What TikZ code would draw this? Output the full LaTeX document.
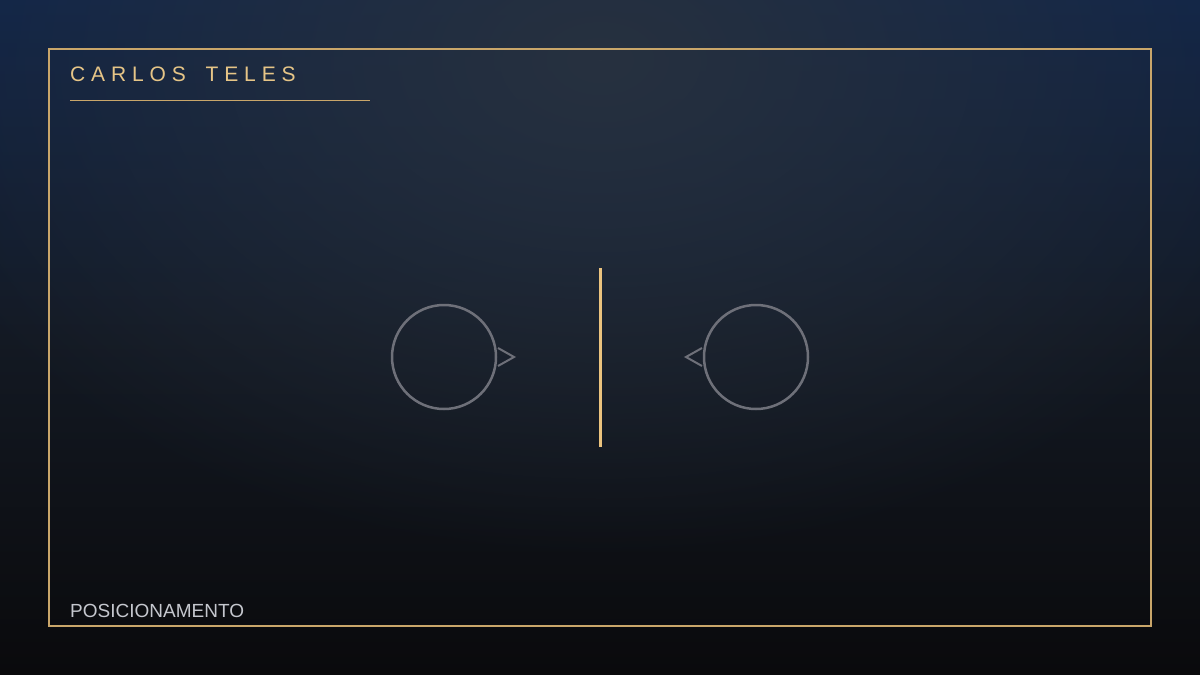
\documentclass[tikz,border=0pt]{standalone}
\usepackage{fontspec}
\setmainfont{Liberation Sans}
\newfontfamily\titlefont[LetterSpace=28]{Liberation Sans}
\usetikzlibrary{fadings}
\definecolor{gold}{HTML}{C9A66A}
\definecolor{goldtext}{HTML}{E6C587}
\definecolor{goldline}{HTML}{EBC37E}
\definecolor{ring}{HTML}{6E7079}
\definecolor{labelgray}{HTML}{C5C7CE}
\definecolor{bgtop}{HTML}{10254A}
\definecolor{bgmid}{HTML}{131923}
\definecolor{bgbot}{HTML}{0A0A0C}
\definecolor{glow}{HTML}{27313F}
\tikzfading[name=glowfade, inner color=transparent!0, outer color=transparent!100]
\tikzset{
  frame/.style={draw=gold, line width=2pt},
  ringnode/.style={circle, draw=ring, line width=2.5pt, minimum size=104pt, inner sep=0pt},
  pointer/.style={draw=ring, line width=2pt, line join=miter},
  divider/.style={draw=goldline, line width=3pt},
}
\begin{document}
\begin{tikzpicture}[x=1pt, y=-1pt]
\useasboundingbox (0,0) rectangle (1200,675);
% background
\shade[top color=bgtop, bottom color=bgbot, middle color=bgmid] (0,0) rectangle (1200,675);
\fill[glow, path fading=glowfade] (600,60) ellipse [x radius=740, y radius=500];
% frame
\draw[frame] (49,49) rectangle (1151,626);
% title
\node[anchor=base west, inner sep=0pt, text=goldtext, font=\titlefont\fontsize{21}{25}\selectfont] (title) at (70,81) {CARLOS\hspace{8pt} TELES};
\coordinate (ulA) at (70,100);
\coordinate (ulB) at (370,100);
\draw[draw=gold, line width=1pt] (ulA) -- (ulB);
% bottom label
\node[anchor=base west, inner sep=0pt, text=labelgray, font=\fontsize{19}{23}\selectfont] (label) at (70,617) {POSICIONAMENTO};
% divider
\coordinate (dTop) at (600,268);
\coordinate (dBot) at (600,447);
\draw[divider] (dTop) -- (dBot);
% left circle and pointer
\node[ringnode] (left) at (444,357) {};
\coordinate (lp1) at (498,348);
\coordinate (lp2) at (514,357);
\coordinate (lp3) at (498,366);
\draw[pointer] (lp1) -- (lp2) -- (lp3);
% right circle and pointer
\node[ringnode] (right) at (756,357) {};
\coordinate (rp1) at (702,348);
\coordinate (rp2) at (686,357);
\coordinate (rp3) at (702,366);
\draw[pointer] (rp1) -- (rp2) -- (rp3);
\end{tikzpicture}
\end{document}
